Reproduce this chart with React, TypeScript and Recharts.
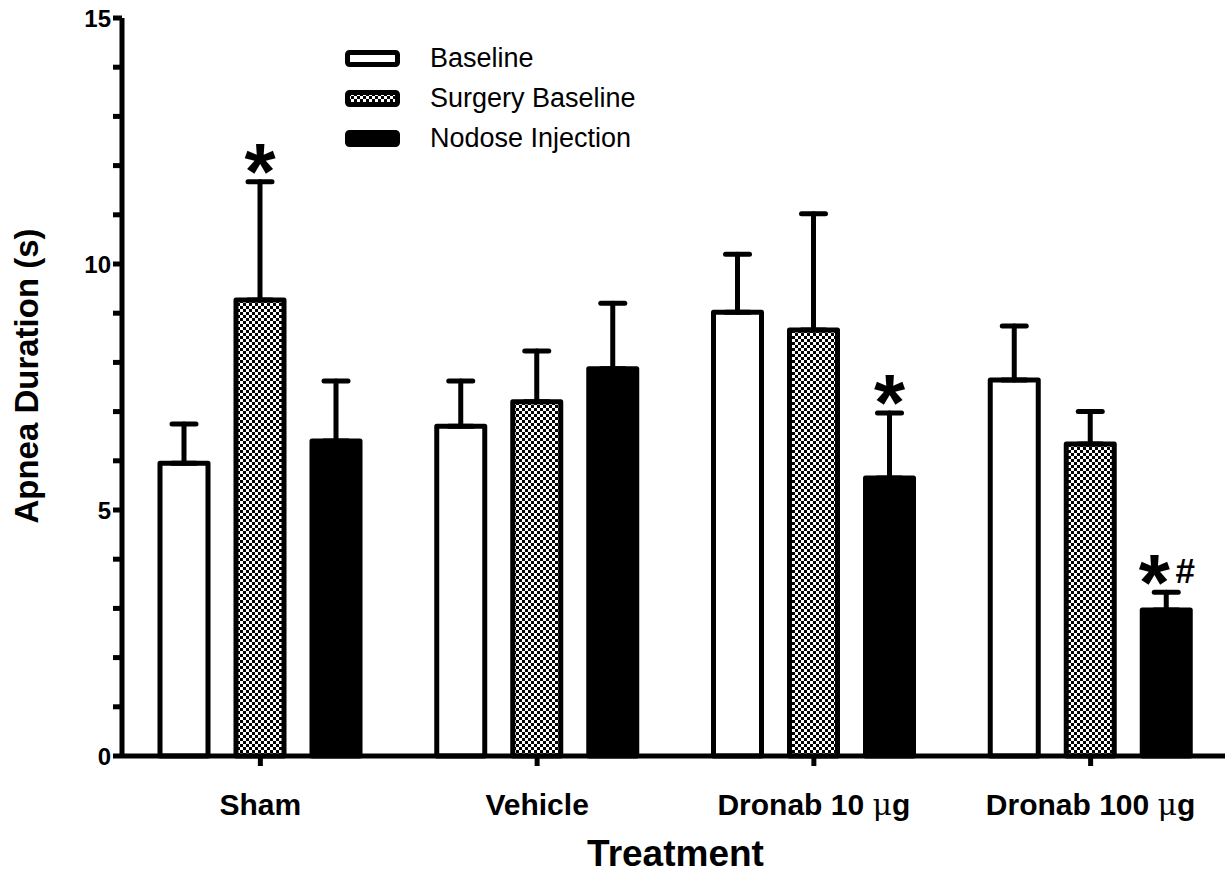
import React from 'react'
import { BarChart, Bar, XAxis, YAxis, ErrorBar, Legend, LabelList, Label } from 'recharts'

const categories = ['Sham', 'Vehicle', 'Dronab 10 μg', 'Dronab 100 μg']
const seriesNames = ['Baseline', 'Surgery Baseline', 'Nodose Injection']
const baseline = [5.95, 6.7, 9.02, 7.64]
const baselineErr = [0.8, 0.92, 1.18, 1.1]
const surgery = [9.27, 7.2, 8.66, 6.34]
const surgeryErr = [2.4, 1.03, 2.36, 0.66]
const nodose = [6.4, 7.87, 5.65, 2.97]
const nodoseErr = [1.22, 1.33, 1.32, 0.36]
const surgerySig = ['*', '', '', '']
const nodoseSig = ['', '', '*', '*#']
const yTicks = [0, 1, 2, 3, 4, 5, 6, 7, 8, 9, 10, 11, 12, 13, 14, 15]

const FONT = '"Liberation Sans", Arial, sans-serif'
const fills = ['#fff', 'url(#checker)', '#000']

const data = categories.map((name, i) => ({
  name,
  baseline: baseline[i],
  baselineErr: [0, baselineErr[i]],
  surgery: surgery[i],
  surgeryErr: [0, surgeryErr[i]],
  nodose: nodose[i],
  nodoseErr: [0, nodoseErr[i]],
}))

// star / hash above the error bar cap
const sigContent = (sig: string[], vals: number[], err: number[]) => (props: any) => {
  const vb = props.viewBox ?? props
  const idx = typeof props.index === 'number' ? props.index : vals.indexOf(Number(props.value))
  const s = sig[idx]
  if (!s) return null
  const { x, y, width, height } = vb
  const capY = y - err[idx] * (height / vals[idx])
  const cx = x + width / 2
  const starSize = 80
  const base = capY - 17 + starSize * 0.43
  if (s === '*#') {
    return (
      <g fontFamily={FONT} fontWeight="bold" fill="#000">
        <text x={cx - 12} y={base} fontSize={starSize} textAnchor="middle">*</text>
        <text x={cx + 19} y={capY - 9} fontSize={35} textAnchor="middle">#</text>
      </g>
    )
  }
  return (
    <text x={cx} y={base} fontSize={starSize} fontFamily={FONT} fontWeight="bold" textAnchor="middle" fill="#000">*</text>
  )
}

const XTick = (props: any) => {
  const { x, y, payload } = props
  const parts = String(payload.value).split('μ')
  return (
    <text x={x} y={y + 47} textAnchor="middle" fontFamily={FONT} fontSize={30} fontWeight="bold" fill="#000">
      {parts[0]}
      {parts.length > 1 && <tspan fontWeight="normal" fontFamily='"DejaVu Serif", serif'>μ</tspan>}
      {parts.length > 1 && parts[1]}
    </text>
  )
}

const renderLegend = () => (
  <svg width={340} height={140} style={{ display: 'block' }}>
    {seriesNames.map((name, i) => (
      <g key={name} transform={`translate(0, ${10 + i * 40})`}>
        <rect x={2.5} y={2.5} width={50} height={12} rx={2} fill={fills[i]} stroke="#000" strokeWidth={5} />
        <text x={85} y={17} fontFamily={FONT} fontSize={27} fill="#000">{name}</text>
      </g>
    ))}
  </svg>
)

export default function App() {
  return (
    <div style={{ position: 'absolute', left: 0, top: 0, width: 1225, height: 873, overflow: 'hidden', background: '#fff' }}>
      <svg width={0} height={0} style={{ position: 'absolute' }}>
        <defs>
          <pattern id="checker" width={6} height={6} patternUnits="userSpaceOnUse">
            <rect width={6} height={6} fill="#fff" />
            <rect width={3} height={3} fill="#000" />
            <rect x={3} y={3} width={3} height={3} fill="#000" />
          </pattern>
        </defs>
      </svg>
      <BarChart
        width={1229}
        height={873}
        data={data}
        margin={{ top: 18, right: 0, bottom: 0, left: 62 }}
        barCategoryGap={38}
        barGap={28}
      >
        <XAxis
          dataKey="name"
          interval={0}
          height={117}
          tickSize={10}
          axisLine={{ stroke: '#000', strokeWidth: 5 }}
          tickLine={{ stroke: '#000', strokeWidth: 5 }}
          tick={<XTick />}
        >
          <Label
            content={(p: any) => {
              const vb = p.viewBox
              return (
                <text x={vb.x + vb.width / 2} y={vb.y + 110} textAnchor="middle" fontFamily={FONT} fontSize={37} fontWeight="bold" fill="#000">
                  Treatment
                </text>
              )
            }}
          />
        </XAxis>
        <YAxis
          domain={[0, 15]}
          ticks={yTicks}
          interval={0}
          width={60}
          tickSize={9}
          tickFormatter={(v: number) => (v % 5 === 0 ? String(v) : '')}
          axisLine={{ stroke: '#000', strokeWidth: 5 }}
          tickLine={{ stroke: '#000', strokeWidth: 5 }}
          tick={{ fontSize: 24, fontWeight: 'bold', fill: '#000', fontFamily: FONT }}
        >
          <Label
            content={(p: any) => {
              const vb = p.viewBox
              const cy = vb.y + vb.height / 2 - 11
              return (
                <text x={38} y={cy} transform={`rotate(-90, 38, ${cy})`} textAnchor="middle" fontFamily={FONT} fontSize={33} fontWeight="bold" fill="#000">
                  Apnea Duration (s)
                </text>
              )
            }}
          />
        </YAxis>
        <Legend
          layout="horizontal"
          verticalAlign="middle"
          content={renderLegend}
          wrapperStyle={{ position: 'absolute', left: 345, top: 40, width: 340 }}
        />
        <Bar dataKey="baseline" name={seriesNames[0]} fill={fills[0]} stroke="#000" strokeWidth={5} strokeLinejoin="round" isAnimationActive={false}>
          <ErrorBar dataKey="baselineErr" direction="y" width={12} stroke="#000" strokeWidth={5} strokeLinecap="round" />
        </Bar>
        <Bar dataKey="surgery" name={seriesNames[1]} fill={fills[1]} stroke="#000" strokeWidth={5} strokeLinejoin="round" isAnimationActive={false}>
          <ErrorBar dataKey="surgeryErr" direction="y" width={12} stroke="#000" strokeWidth={5} strokeLinecap="round" />
          <LabelList dataKey="surgery" content={sigContent(surgerySig, surgery, surgeryErr)} />
        </Bar>
        <Bar dataKey="nodose" name={seriesNames[2]} fill={fills[2]} stroke="#000" strokeWidth={5} strokeLinejoin="round" isAnimationActive={false}>
          <ErrorBar dataKey="nodoseErr" direction="y" width={12} stroke="#000" strokeWidth={5} strokeLinecap="round" />
          <LabelList dataKey="nodose" content={sigContent(nodoseSig, nodose, nodoseErr)} />
        </Bar>
      </BarChart>
    </div>
  )
}
